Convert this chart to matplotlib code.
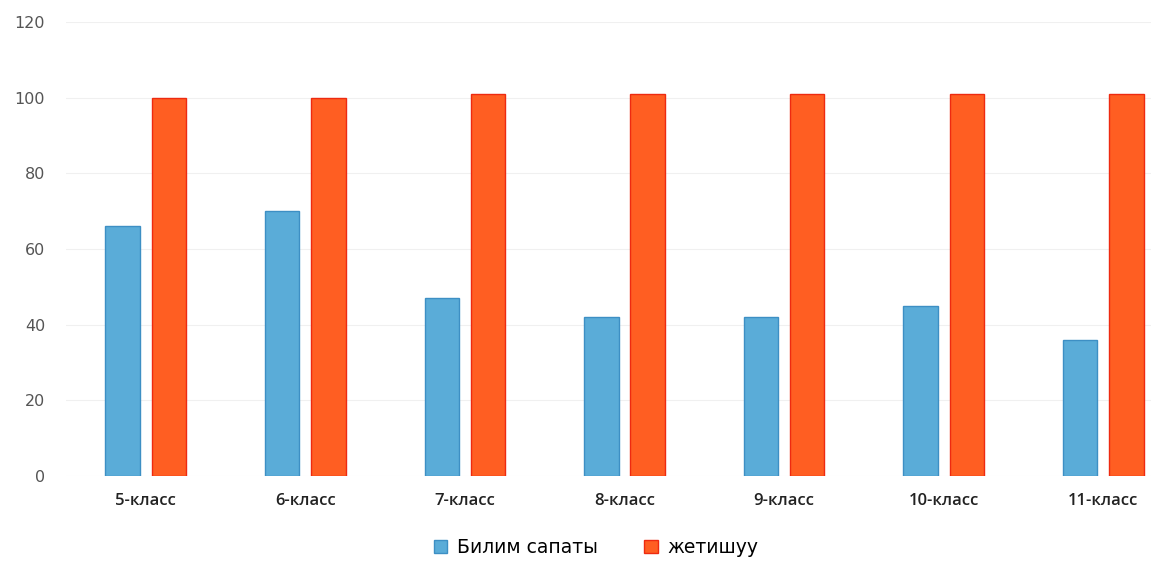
import matplotlib.pyplot as plt
import numpy as np

categories = ['5-класс', '6-класс', '7-класс', '8-класс', '9-класс', '10-класс', '11-класс']
bilim_sapaty = [66, 70, 47, 42, 42, 45, 36]
jetishuu = [100, 100, 101, 101, 101, 101, 101]

fig = plt.figure(figsize=(11.51, 5.68), dpi=100)
ax = fig.add_axes([66 / 1151, 92 / 568, 1117 / 1151, 454 / 568])

x = np.arange(len(categories))
w = 0.215
ax.bar(x - 0.145, bilim_sapaty, w, color='#5aacd8', edgecolor='#3d8fc4',
       linewidth=1, label='Билим сапаты')
ax.bar(x + 0.145, jetishuu, w, color='#ff5e22', edgecolor='#ee2a10',
       linewidth=1, label='жетишуу')

ax.set_xlim(-0.5, len(categories) - 0.5)
ax.set_ylim(0, 120)
ax.set_yticks(range(0, 121, 20))
ax.yaxis.grid(True, color='#f0f0f0', linewidth=0.8)
ax.set_axisbelow(True)
for s in ax.spines.values():
    s.set_visible(False)
ax.tick_params(length=0)
ax.tick_params(axis='y', colors='#555555', labelsize=11.5, pad=15)
ax.set_xticks(x)
ax.set_xticklabels(categories, fontsize=12, color='#222222',
                   fontfamily='Open Sans', fontweight='semibold')
ax.tick_params(axis='x', pad=12)

ax.legend(loc='lower center', bbox_to_anchor=(530 / 1117, -0.215), ncol=2,
          frameon=False, fontsize=13.5, handlelength=0.7, handleheight=0.7,
          columnspacing=2.5, handletextpad=0.5)

fig.savefig('out.png', dpi=100)
